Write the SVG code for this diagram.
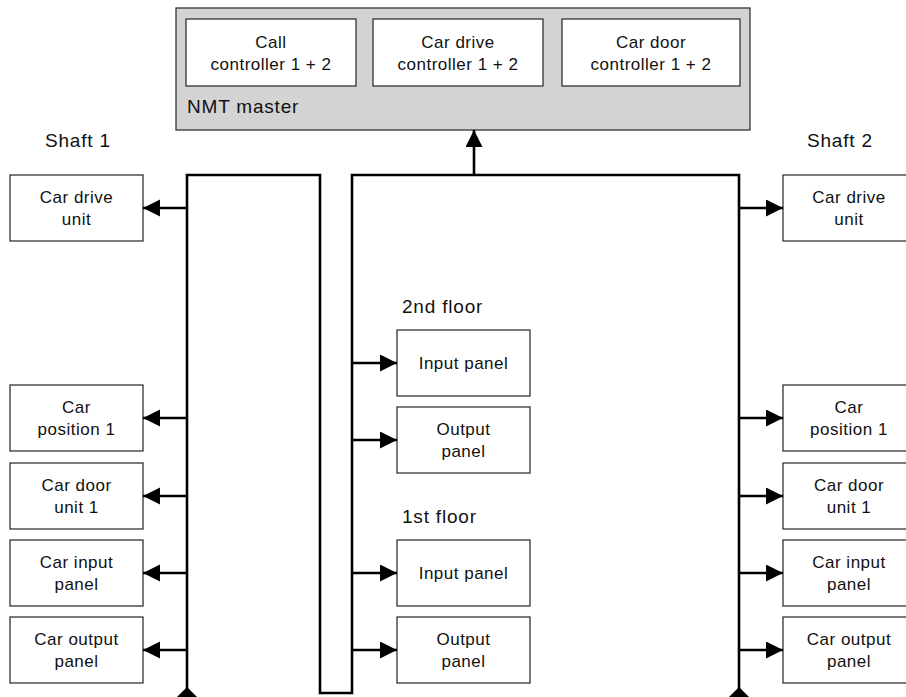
<svg xmlns="http://www.w3.org/2000/svg" width="906" height="697" viewBox="0 0 906 697">
<defs>
<style>
.box{fill:#fff;stroke:#333;stroke-width:1.3}
.t{font-family:"Liberation Sans",Arial,sans-serif;font-size:17px;letter-spacing:0.5px;fill:#111;text-anchor:middle}
.lbl{font-family:"Liberation Sans",Arial,sans-serif;font-size:19px;letter-spacing:0.8px;fill:#111}
.bus{fill:none;stroke:#000;stroke-width:2.6}
.br{fill:none;stroke:#000;stroke-width:2.6;marker-end:url(#ah)}
</style>
<marker id="ah" markerUnits="userSpaceOnUse" markerWidth="18" markerHeight="18" refX="17" refY="8.5" orient="auto">
<path d="M0,0 L17,8.5 L0,17 Z" fill="#000"/>
</marker>
</defs>
<rect width="906" height="697" fill="#fff"/>

<g id="nmt-master">
<rect x="176" y="8" width="574" height="122" fill="#d3d3d3" stroke="#333" stroke-width="1.3"/>
<text class="lbl" x="187" y="113">NMT master</text>
</g>
<g id="call-controller">
<rect class="box" x="186" y="19" width="170" height="67"/>
<text class="t" x="271" y="48">Call</text>
<text class="t" x="271" y="70">controller 1 + 2</text>
</g>
<g id="car-drive-controller">
<rect class="box" x="373" y="19" width="170" height="67"/>
<text class="t" x="458" y="48">Car drive</text>
<text class="t" x="458" y="70">controller 1 + 2</text>
</g>
<g id="car-door-controller">
<rect class="box" x="562" y="19" width="178" height="67"/>
<text class="t" x="651" y="48">Car door</text>
<text class="t" x="651" y="70">controller 1 + 2</text>
</g>

<text class="lbl" x="45" y="147">Shaft 1</text>
<text class="lbl" x="807" y="147">Shaft 2</text>
<text class="lbl" x="402" y="313">2nd floor</text>
<text class="lbl" x="402" y="523">1st floor</text>

<g id="s1-drive"><rect class="box" x="10" y="175" width="133" height="66"/><text class="t" x="76.5" y="203">Car drive</text><text class="t" x="76.5" y="225">unit</text></g>
<g id="s1-pos"><rect class="box" x="10" y="385" width="133" height="66"/><text class="t" x="76.5" y="413">Car</text><text class="t" x="76.5" y="435">position 1</text></g>
<g id="s1-door"><rect class="box" x="10" y="463" width="133" height="66"/><text class="t" x="76.5" y="491">Car door</text><text class="t" x="76.5" y="513">unit 1</text></g>
<g id="s1-input"><rect class="box" x="10" y="540" width="133" height="66"/><text class="t" x="76.5" y="568">Car input</text><text class="t" x="76.5" y="590">panel</text></g>
<g id="s1-output"><rect class="box" x="10" y="617" width="133" height="66"/><text class="t" x="76.5" y="645">Car output</text><text class="t" x="76.5" y="667">panel</text></g>

<g id="s2-drive"><rect class="box" x="783" y="175" width="133" height="66"/><text class="t" x="849" y="203">Car drive</text><text class="t" x="849" y="225">unit</text></g>
<g id="s2-pos"><rect class="box" x="783" y="385" width="133" height="66"/><text class="t" x="849" y="413">Car</text><text class="t" x="849" y="435">position 1</text></g>
<g id="s2-door"><rect class="box" x="783" y="463" width="133" height="66"/><text class="t" x="849" y="491">Car door</text><text class="t" x="849" y="513">unit 1</text></g>
<g id="s2-input"><rect class="box" x="783" y="540" width="133" height="66"/><text class="t" x="849" y="568">Car input</text><text class="t" x="849" y="590">panel</text></g>
<g id="s2-output"><rect class="box" x="783" y="617" width="133" height="66"/><text class="t" x="849" y="645">Car output</text><text class="t" x="849" y="667">panel</text></g>

<g id="f2-input"><rect class="box" x="397" y="330" width="133" height="66"/><text class="t" x="463.5" y="369">Input panel</text></g>
<g id="f2-output"><rect class="box" x="397" y="407" width="133" height="66"/><text class="t" x="463.5" y="435">Output</text><text class="t" x="463.5" y="457">panel</text></g>
<g id="f1-input"><rect class="box" x="397" y="540" width="133" height="66"/><text class="t" x="463.5" y="579">Input panel</text></g>
<g id="f1-output"><rect class="box" x="397" y="617" width="133" height="66"/><text class="t" x="463.5" y="645">Output</text><text class="t" x="463.5" y="667">panel</text></g>

<g id="connectors">
<path class="bus" d="M187,697 V175 H320 V693 H352 V175 H739 V697"/>
<path class="br" d="M474,175 V130"/>
<path class="br" d="M187,208 H143"/>
<path class="br" d="M187,418 H143"/>
<path class="br" d="M187,496 H143"/>
<path class="br" d="M187,573 H143"/>
<path class="br" d="M187,650 H143"/>
<path class="br" d="M739,208 H783"/>
<path class="br" d="M739,418 H783"/>
<path class="br" d="M739,496 H783"/>
<path class="br" d="M739,573 H783"/>
<path class="br" d="M739,650 H783"/>
<path class="br" d="M352,363 H397"/>
<path class="br" d="M352,440 H397"/>
<path class="br" d="M352,573 H397"/>
<path class="br" d="M352,650 H397"/>
<path d="M187,687 L197,697 L187,707 L177,697 Z" fill="#000"/>
<path d="M739,687 L749,697 L739,707 L729,697 Z" fill="#000"/>
</g>
</svg>
